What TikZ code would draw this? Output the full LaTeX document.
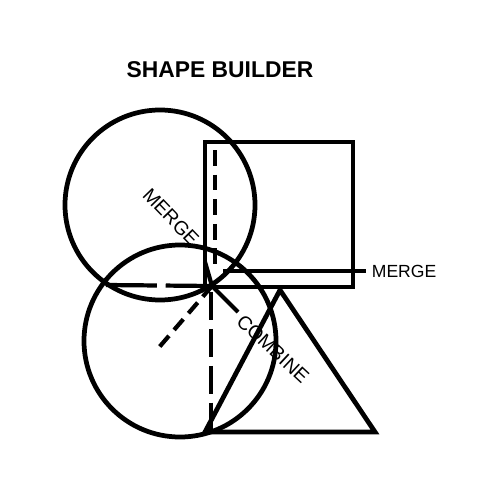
\documentclass[tikz,border=0pt]{standalone}
\usepackage{fontspec}
\setmainfont{Liberation Sans}
\begin{document}
\begin{tikzpicture}[x=0.02cm,y=-0.02cm,
    outline/.style={line width=2.7pt},
    guide/.style={line width=2.4pt, dash pattern=on 16pt off 5pt},
    tag/.style={font=\fontsize{11}{13}\selectfont}]
  \useasboundingbox (0,0) rectangle (500,500);

  % Title
  \node (title) at (220,70) {\fontsize{13}{15}\selectfont\bfseries SHAPE BUILDER};

  % Circles
  \draw[outline] (160,205) circle (95);
  \draw[outline] (180,341) circle (96);

  % Square and triangle
  \draw[outline, line join=miter] (205,142) rectangle (353,287);
  \draw[outline, line join=miter] (280,290) -- (375,432) -- (205,432) -- cycle;

  % Center of the pieces
  \coordinate (c) at (212,286);

  % Dashed guides
  \draw[guide, dash pattern=on 9pt off 5pt] (215,150) -- (215,268);
  \draw[guide] (211,292) -- (211,430);
  \draw[guide, dash pattern=on 29pt off 5pt] (106,285) -- (c);
  \draw[guide, dash pattern=on 8pt off 4.5pt] (c) -- (155,352);

  % Merge line
  \draw[outline] (223,271) -- (366,271) node[tag, right, inner sep=2pt, font=\fontsize{10}{12}\selectfont] (merge) {MERGE};

  % Diagonal labels
  \draw[line width=2.4pt] (205,262) -- (c) -- (238,312);
  \node[tag, rotate=-46] (mergediag) at (171,217) {MERGE};
  \node[tag, rotate=-43] (combine) at (273,349) {COMBINE};
\end{tikzpicture}
\end{document}
